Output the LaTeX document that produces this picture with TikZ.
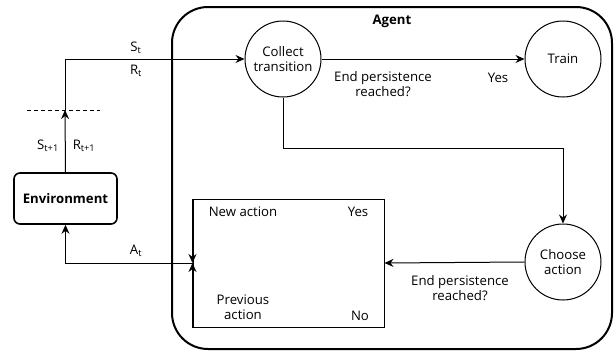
\documentclass[tikz,border=0pt]{standalone}
\usepackage{fontspec}
\setmainfont{Open Sans}
\usetikzlibrary{arrows.meta}
\begin{document}
\begin{tikzpicture}[x=1pt,y=-1pt,
  every node/.style={font=\fontsize{13.2}{15.5}\selectfont},
  arr/.style={draw, line width=1pt, -{Stealth[length=9pt,width=8pt,inset=3pt]}},
  ln/.style={draw, line width=1pt},
  circ/.style={draw, line width=1pt, circle, minimum size=76pt, inner sep=0pt, align=center},
  lbl/.style={inner sep=1pt, align=center},
  bold/.style={font=\fontsize{13.2}{15.5}\selectfont\bfseries},
]
\useasboundingbox (0,0) rectangle (614,351);
% Agent frame
\draw[line width=2pt, rounded corners=36pt] (172,7) rectangle (612,349);
\node[bold] (agent) at (392,21.5) {Agent};

\node[circ] (collect) at (283,59) {Collect\\transition};
\node[circ] (train) at (563,59) {Train};
\node[circ] (choose) at (563,262) {Choose\\action};
\node[draw, line width=1.6pt, rounded corners=6pt, minimum width=103pt, minimum height=51pt, inner sep=0pt, bold] (env) at (65.5,198.5) {Environment};
\node[draw, line width=1pt, minimum width=191pt, minimum height=128pt, inner sep=0pt] (sel) at (288.5,263) {};

% texts in selection box
\node[lbl] (newact) at (243,212) {New action};
\node[lbl] (yes2) at (358,212) {Yes};
\node[lbl] (prevact) at (243,307) {Previous\\action};
\node[lbl] (no) at (360,316) {No};

% environment -> collect
\coordinate (mid) at (65,110);
\coordinate (dl) at (27,110);
\coordinate (dr) at (100,110);
\draw[ln, dashed, dash pattern=on 4pt off 3pt] (dl) -- (dr);
\draw[arr] (env.north) -- (mid);
\draw[arr] (mid) |- (collect.west);
\node[lbl] (st) at (136,48) {S\textsubscript{t}};
\node[lbl] (rt) at (136,71) {R\textsubscript{t}};
\node[lbl] (st1) at (48,146) {S\textsubscript{t+1}};
\node[lbl] (rt1) at (84,146) {R\textsubscript{t+1}};

% collect -> train
\draw[arr] (collect) -- (train);
\node[lbl] (q1) at (383,84) {End persistence\\reached?};
\node[lbl] (yes1) at (498,78) {Yes};

% collect -> choose
\draw[arr] (collect.south) -- ++(0,51) -| (choose.north);

% choose -> selection
\draw[arr] (choose.west) -- (sel.east);
\node[lbl] (q2) at (460,288) {End persistence\\reached?};

% selection -> environment
\draw[arr] (sel.north west) -- (sel.west);
\draw[arr] (sel.south west) -- (sel.west);
\draw[arr] (sel.west) -| (env.south);
\node[lbl] (at) at (136,251) {A\textsubscript{t}};
\end{tikzpicture}
\end{document}
